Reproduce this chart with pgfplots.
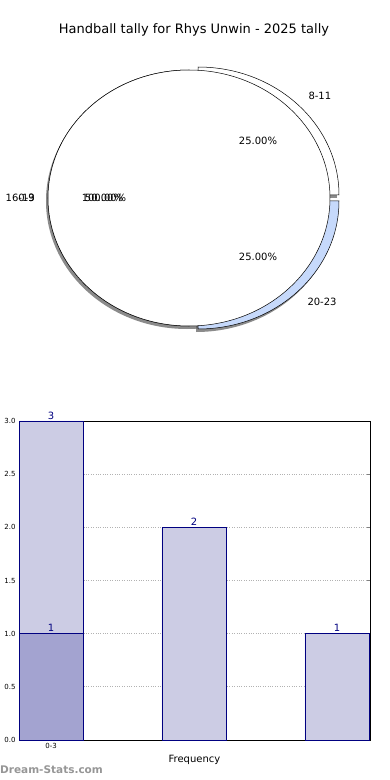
\documentclass[border=0pt]{standalone}
\usepackage{pgfplots}
\pgfplotsset{compat=1.18}
\usepackage{fontspec}
\setmainfont{DejaVu Sans}
\definecolor{barfill}{RGB}{204,204,228}
\definecolor{barfilldark}{RGB}{163,163,208}
\definecolor{navy}{RGB}{0,0,128}
\definecolor{pieblue}{RGB}{198,217,251}
\definecolor{wm}{RGB}{150,150,150}
\definecolor{shadow}{RGB}{90,90,90}
\newcommand{\fs}[1]{\fontsize{#1}{#1}\selectfont}
\begin{document}
\begin{tikzpicture}
% ---------- background axis holding the pie ----------
\begin{axis}[at={(0,0)}, anchor=south west, scale only axis,
  width=390bp, height=780bp, xmin=0, xmax=390, ymin=0, ymax=780,
  hide axis, clip=false]
% pie: shares 8-11 = 1, 20-23 = 1, 16-19 = 2 (of 4); 0-3 = 4 (of 4)
\def\rx{141bp}\def\ry{128bp}
% shadows
\fill[shadow, opacity=0.7] (axis cs:187,579) ellipse [x radius=\rx, y radius=\ry];
\fill[shadow, opacity=0.7] (axis cs:196,582) -- ++(\rx,0) arc[start angle=0, end angle=90, x radius=\rx, y radius=\ry] -- cycle;
\fill[shadow, opacity=0.7] (axis cs:196,576) -- ++(0,-\ry) arc[start angle=-90, end angle=0, x radius=\rx, y radius=\ry] -- cycle;
% exploded slices
\filldraw[fill=white, draw=black, line width=0.5bp] (axis cs:198,585) -- ++(\rx,0) arc[start angle=0, end angle=90, x radius=\rx, y radius=\ry] -- cycle;
\filldraw[fill=pieblue, draw=black, line width=0.5bp] (axis cs:198,579) -- ++(0,-\ry) arc[start angle=-90, end angle=0, x radius=\rx, y radius=\ry] -- cycle;
% 16-19 and 0-3
\filldraw[fill=white, draw=black, line width=0.5bp] (axis cs:189,582) -- ++(0,\ry) arc[start angle=90, end angle=270, x radius=\rx, y radius=\ry] -- cycle;
\filldraw[fill=white, draw=black, line width=0.5bp] (axis cs:189,582) ellipse [x radius=\rx, y radius=\ry];
% labels
\node[font=\fs{13bp}] at (axis cs:194,750) {Handball tally for Rhys Unwin - 2025 tally};
\node[font=\fs{10bp}, anchor=west] at (axis cs:305,684) {8-11};
\node[font=\fs{10bp}] at (axis cs:258,639) {25.00\%};
\node[font=\fs{10bp}] at (axis cs:258,523) {25.00\%};
\node[font=\fs{10bp}, anchor=west] at (axis cs:304,478) {20-23};
\node[font=\fs{10bp}, anchor=east, inner sep=0pt] at (axis cs:35,582) {16-19};
\node[font=\fs{10bp}, anchor=east, inner sep=0pt] at (axis cs:35,582) {0-3};
\node[font=\fs{10bp}] at (axis cs:104,582) {50.00\%};
\node[font=\fs{10bp}] at (axis cs:104,582) {100.00\%};
\node[font=\bfseries\fs{10.5bp}, text=wm, anchor=west, inner sep=0pt] at (axis cs:0,10) {Dream-Stats.com};
\end{axis}
% ---------- bar chart ----------
\begin{axis}[at={(19bp,40bp)}, anchor=south west, scale only axis,
  width=351bp, height=319bp,
  xmin=-0.224, xmax=2.231, ymin=0, ymax=3,
  xtick={0}, xticklabels={0-3},
  ytick={0,0.5,1,1.5,2,2.5,3},
  yticklabel style={/pgf/number format/.cd, fixed, fixed zerofill, precision=1},
  /pgf/number format/assume math mode=true,
  ticklabel style={font=\fs{7bp}},
  tick align=inside, tick pos=both, major tick length=3bp,
  xmajorgrids, ymajorgrids,
  grid style={dotted, gray!60, line width=0.8bp},
  axis line style={line width=0.8bp},
  xlabel={Frequency},
  xlabel style={font=\fs{10bp}, at={(axis description cs:0.5,0)}, anchor=center, yshift=-20bp},
  clip=false,
  nodes near coords,
  every node near coord/.append style={font=\fs{10bp}, text=navy, inner sep=1.5bp},
  ]
\addplot[ybar, bar shift=0pt, bar width=0.448, fill=barfill, draw=navy, line width=0.6bp]
  coordinates {(0,3) (1,2) (2,1)};
\addplot[ybar, bar shift=0pt, bar width=0.448, fill=barfilldark, draw=navy, line width=0.6bp]
  coordinates {(0,1)};
\end{axis}
\pgfresetboundingbox
\path[use as bounding box] (0,0) rectangle (390bp,780bp);
\end{tikzpicture}
\end{document}
